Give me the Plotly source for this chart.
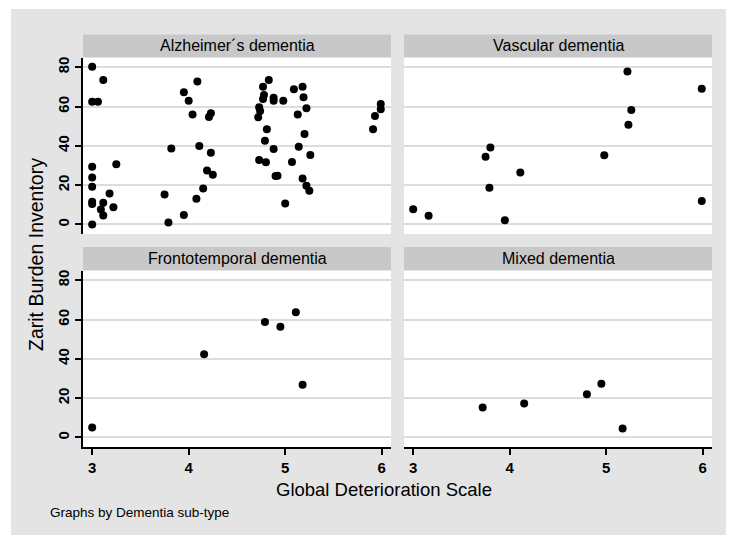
import plotly.graph_objects as go

# page body has an 8px margin, so the figure is drawn at (8, 8) in the window
OFF = 8
W, H = 734 - OFF, 535 - OFF

# ---------------- data ----------------
panel_titles = ["Alzheimer´s dementia", "Vascular dementia",
                "Frontotemporal dementia", "Mixed dementia"]

alz_gds = [3.0, 3.115, 3.0, 3.06, 3.0, 3.0, 3.0, 3.0, 3.0, 3.0, 3.115, 3.09,
           3.115, 3.18, 3.22, 3.25, 3.75, 3.79, 3.82, 3.95, 3.95, 4.09, 4.0,
           4.04, 4.11, 4.08, 4.15, 4.19, 4.23, 4.25, 4.21, 4.23, 4.77, 4.83,
           4.78, 4.77, 4.88, 4.88, 4.98, 4.73, 4.74, 4.72, 4.81, 4.79, 4.73,
           4.80, 4.88, 4.90, 4.92, 5.0, 5.07, 5.09, 5.18, 5.19, 5.22, 5.13,
           5.20, 5.14, 5.26, 5.18, 5.22, 5.25, 5.91, 5.93, 5.99, 5.99]
alz_zbi = [80.3, 73.5, 62.5, 62.5, 29.4, 23.9, 19.2, 11.5, 10.4, 0.0, 11.0, 7.6,
           4.6, 15.8, 8.8, 30.6, 15.3, 1.0, 38.7, 4.8, 67.3, 72.7, 63.0,
           56.0, 39.9, 13.1, 18.3, 27.5, 36.5, 25.3, 54.7, 56.6, 70.1, 73.5,
           65.9, 63.9, 64.5, 63.0, 63.0, 59.6, 57.7, 54.5, 48.4, 42.6, 32.8,
           31.6, 38.4, 24.6, 24.8, 10.7, 31.8, 68.8, 70.1, 64.7, 59.1, 56.0,
           46.0, 39.6, 35.3, 23.4, 19.7, 17.2, 48.4, 55.2, 61.3, 58.6]

vas_gds = [3.0, 3.16, 3.75, 3.80, 3.79, 3.95, 4.11, 4.98, 5.22, 5.23, 5.26, 5.99, 5.99]
vas_zbi = [7.8, 4.4, 34.5, 39.2, 18.7, 2.2, 26.5, 35.2, 77.8, 50.8, 58.3, 69.0, 11.9]

ftd_gds = [3.0, 4.16, 4.79, 4.95, 5.11, 5.18]
ftd_zbi = [5.1, 42.4, 58.8, 56.3, 63.7, 26.8]

mix_gds = [3.72, 4.15, 4.80, 4.95, 5.17]
mix_zbi = [15.3, 17.3, 22.0, 27.3, 4.6]

x_ticks = [3, 4, 5, 6]
y_ticks = [0, 20, 40, 60, 80]

x_title = "Global Deterioration Scale"
y_title = "Zarit Burden Inventory"
note = "Graphs by Dementia sub-type"

# ---------------- layout helpers (window pixel geometry) ----------------
def px_x(v):
    return (v - OFF) / W

def px_y(v):
    return 1 - (v - OFF) / H

col_px = [(83, 391), (404, 712)]
row_px = {"top": (58, 234), "bottom": (271, 447)}
strip_px = {"top": (34.5, 57), "bottom": (247, 270)}

x_range = [2.905, 6.096]
y_range = [-4.85, 84.7]

BG = "#e4e4e4"
STRIP = "#c8c8c8"
GRID = "#dcdcdc"
FONT = "Liberation Sans, Arial, sans-serif"
TICKFONT = dict(family=FONT, size=15, color="black", weight="bold")

fig = go.Figure()

panels = [
    (panel_titles[0], alz_gds, alz_zbi, 0, "top", "3"),
    (panel_titles[1], vas_gds, vas_zbi, 1, "top", "4"),
    (panel_titles[2], ftd_gds, ftd_zbi, 0, "bottom", ""),
    (panel_titles[3], mix_gds, mix_zbi, 1, "bottom", "2"),
]

shapes = []
annotations = []
layout_axes = {}

# thin white frame on the left and top of the grey background
shapes.append(dict(type="rect", xref="paper", yref="paper", x0=0, x1=px_x(11),
                   y0=0, y1=1, fillcolor="white", line_width=0, layer="below"))
shapes.append(dict(type="rect", xref="paper", yref="paper", x0=0, x1=1,
                   y0=px_y(9), y1=1, fillcolor="white", line_width=0, layer="below"))

for title, xs, ys, col, row, sfx in panels:
    fig.add_trace(go.Scatter(
        x=xs, y=ys, mode="markers",
        marker=dict(color="black", size=8, line=dict(width=0)),
        xaxis="x" + sfx, yaxis="y" + sfx, showlegend=False,
        hoverinfo="x+y"))
    c0, c1 = col_px[col]
    r0, r1 = row_px[row]
    s0, s1 = strip_px[row]
    show_x = row == "bottom"
    show_y = col == 0
    layout_axes["xaxis" + sfx] = dict(
        domain=[px_x(c0), px_x(c1)], range=x_range, anchor="y" + sfx,
        tickvals=x_ticks, showticklabels=show_x, ticks="outside" if show_x else "",
        ticklen=6, tickwidth=1.5, tickcolor="black",
        showline=show_x, linecolor="black", linewidth=1.5,
        showgrid=False, zeroline=False, automargin=False,
        tickfont=TICKFONT)
    layout_axes["yaxis" + sfx] = dict(
        domain=[px_y(r1), px_y(r0)], range=y_range, anchor="x" + sfx,
        tickvals=y_ticks, showticklabels=show_y, ticks="outside" if show_y else "",
        ticklen=6, tickwidth=1.5, tickcolor="black", tickangle=-90,
        showline=show_y, linecolor="black", linewidth=1.5,
        showgrid=True, gridcolor=GRID, gridwidth=1.5, zeroline=False,
        automargin=False,
        tickfont=TICKFONT)
    shapes.append(dict(type="rect", xref="paper", yref="paper",
                       x0=px_x(c0), x1=px_x(c1), y0=px_y(r1), y1=px_y(r0),
                       fillcolor="white", line_width=0, layer="below"))
    shapes.append(dict(type="rect", xref="paper", yref="paper",
                       x0=px_x(c0), x1=px_x(c1), y0=px_y(s1), y1=px_y(s0),
                       fillcolor=STRIP, line_width=0, layer="below"))
    annotations.append(dict(text=title, xref="paper", yref="paper",
                            x=px_x((c0 + c1) / 2), y=px_y((s0 + s1) / 2),
                            xanchor="center", yanchor="middle", showarrow=False,
                            font=dict(family=FONT, size=16, color="black")))

annotations.append(dict(text=x_title, xref="paper", yref="paper",
                        x=px_x(384), y=px_y(490), xanchor="center", yanchor="middle",
                        showarrow=False, font=dict(family=FONT, size=18.5, color="black")))
annotations.append(dict(text=y_title, xref="paper", yref="paper",
                        x=px_x(36), y=px_y(255), xanchor="center", yanchor="middle",
                        textangle=-90, showarrow=False,
                        font=dict(family=FONT, size=19.5, color="black")))
annotations.append(dict(text=note, xref="paper", yref="paper",
                        x=px_x(48), y=px_y(512), xanchor="left", yanchor="middle",
                        showarrow=False, font=dict(family=FONT, size=13.5, color="black")))

fig.update_layout(
    width=W, height=H,
    margin=dict(l=0, r=0, t=0, b=0, pad=0),
    paper_bgcolor=BG, plot_bgcolor="rgba(0,0,0,0)",
    shapes=shapes, annotations=annotations,
    **layout_axes)

fig.write_html("out.html")
